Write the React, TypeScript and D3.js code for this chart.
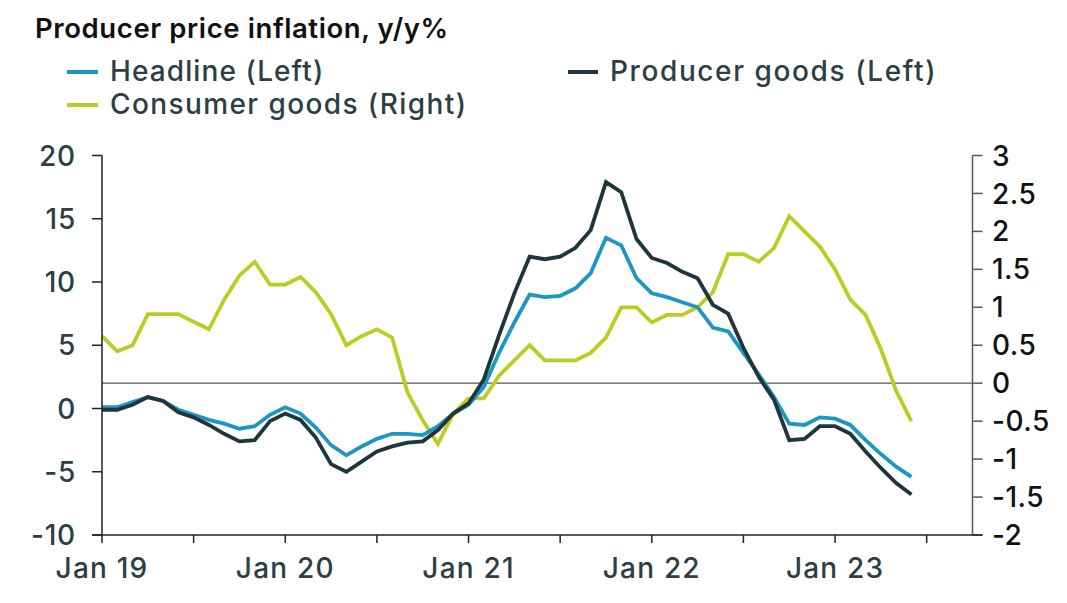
import React from "react";
import * as d3 from "d3";

const months: string[] = d3.range(54).map((i) => {
  const y = 2019 + Math.floor(i / 12);
  const m = (i % 12) + 1;
  return `${y}-${String(m).padStart(2, "0")}`;
});

const headline: number[] = [
  0.1, 0.1, 0.5, 0.9, 0.6, -0.1, -0.5, -0.9, -1.2, -1.6, -1.4, -0.5,
  0.1, -0.4, -1.5, -2.9, -3.7, -3.0, -2.4, -2.0, -2.0, -2.1, -1.4, -0.4,
  0.3, 1.7, 4.4, 6.8, 9.0, 8.8, 8.9, 9.5, 10.7, 13.5, 12.9, 10.3,
  9.1, 8.8, 8.4, 8.0, 6.4, 6.1, 4.4, 2.7, 0.9, -1.2, -1.3, -0.7,
  -0.8, -1.3, -2.5, -3.6, -4.6, -5.4,
];

const producer: number[] = [
  -0.1, -0.1, 0.3, 0.9, 0.6, -0.3, -0.7, -1.3, -2.0, -2.6, -2.5, -1.0,
  -0.4, -0.9, -2.3, -4.4, -5.0, -4.2, -3.4, -3.0, -2.7, -2.6, -1.7, -0.4,
  0.4, 2.3, 5.8, 9.1, 12.0, 11.8, 12.0, 12.7, 14.1, 17.9, 17.1, 13.4,
  11.9, 11.5, 10.8, 10.3, 8.2, 7.5, 4.8, 2.5, 0.7, -2.5, -2.4, -1.4,
  -1.4, -2.0, -3.4, -4.7, -5.9, -6.8,
];

const consumer: number[] = [
  0.62, 0.42, 0.5, 0.91, 0.91, 0.91, 0.81, 0.71, 1.1, 1.42, 1.6, 1.3,
  1.3, 1.4, 1.2, 0.91, 0.5, 0.62, 0.71, 0.6, -0.12, -0.49, -0.8, -0.4,
  -0.2, -0.2, 0.1, 0.3, 0.5, 0.3, 0.3, 0.3, 0.4, 0.6, 1.0, 1.0,
  0.8, 0.9, 0.9, 1.0, 1.2, 1.7, 1.7, 1.6, 1.78, 2.2, 2.0, 1.8,
  1.5, 1.1, 0.9, 0.45, -0.1, -0.5,
];

const leftTicks: number[] = [-10, -5, 0, 5, 10, 15, 20];
const rightTicks: number[] = [-2, -1.5, -1, -0.5, 0, 0.5, 1, 1.5, 2, 2.5, 3];
const xTickMonths: number[] = [0, 6, 12, 18, 24, 30, 36, 42, 48, 54];
const xLabels: { m: number; label: string }[] = [
  { m: 0, label: "Jan 19" },
  { m: 12, label: "Jan 20" },
  { m: 24, label: "Jan 21" },
  { m: 36, label: "Jan 22" },
  { m: 48, label: "Jan 23" },
];

const title = "Producer price inflation, y/y%";
const legendItems = [
  { label: "Headline (Left)", color: "#1b98c2" },
  { label: "Producer goods (Left)", color: "#1e363c" },
  { label: "Consumer goods (Right)", color: "#bccc22" },
];

const W = 1067;
const H = 603;
const TEXT = "#2b3f44";
const FONT = "Inter, 'Liberation Sans', Arial, sans-serif";

export default function App() {
  const x = d3.scaleLinear().domain([0, 57]).range([102, 972.5]);
  const yL = d3.scaleLinear().domain([-10, 20]).range([535, 155.5]);
  const yR = d3.scaleLinear().domain([-2, 3]).range([535, 155.5]);

  const lineL = d3
    .line<number>()
    .x((_, i) => x(i))
    .y((d) => yL(d));
  const lineR = d3
    .line<number>()
    .x((_, i) => x(i))
    .y((d) => yR(d));

  const x0 = x(0);
  const x1 = x(57);

  return (
    <div style={{ position: "fixed", left: 0, top: 0 }}>
      <svg width={W} height={H} style={{ display: "block", background: "#fff" }} fontFamily={FONT}>
        <text x={35} y={38} fontSize={27.5} fontWeight={600} fill="#111" letterSpacing={0.6}>
          {title}
        </text>
        {/* legend */}
        <g fontSize={28} fontWeight={500} fill={TEXT} letterSpacing={1.1}>
          <line x1={67} x2={98} y1={72} y2={72} stroke={legendItems[0].color} strokeWidth={4} />
          <text x={110} y={81}>{legendItems[0].label}</text>
          <line x1={568} x2={598} y1={72} y2={72} stroke={legendItems[1].color} strokeWidth={4} />
          <text x={610} y={81} letterSpacing={1.6}>{legendItems[1].label}</text>
          <line x1={67} x2={98} y1={105} y2={105} stroke={legendItems[2].color} strokeWidth={4} />
          <text x={110} y={114} letterSpacing={1.4}>{legendItems[2].label}</text>
        </g>

        {/* zero line (right axis 0) */}
        <line x1={x0} x2={x1} y1={yR(0)} y2={yR(0)} stroke="#555" strokeWidth={1.3} />

        {/* series */}
        <path d={lineR(consumer) || ""} fill="none" stroke={legendItems[2].color} strokeWidth={3.8} />
        <path d={lineL(headline) || ""} fill="none" stroke={legendItems[0].color} strokeWidth={3.8} />
        <path d={lineL(producer) || ""} fill="none" stroke={legendItems[1].color} strokeWidth={3.8} />

        {/* left axis */}
        <line x1={x0} x2={x0} y1={yL(20)} y2={yL(-10)} stroke="#222" strokeWidth={1.5} />
        {leftTicks.map((t) => (
          <g key={"l" + t}>
            <line x1={x0 - 10} x2={x0} y1={yL(t)} y2={yL(t)} stroke="#222" strokeWidth={1.5} />
            <text x={76} y={yL(t)} dy="0.36em" textAnchor="end" fontSize={28} fontWeight={500} fill={TEXT} letterSpacing={0.8}>
              {t}
            </text>
          </g>
        ))}

        {/* right axis */}
        <line x1={x1} x2={x1} y1={yR(3)} y2={yR(-2)} stroke="#4b5d5f" strokeWidth={1.5} />
        {rightTicks.map((t) => (
          <g key={"r" + t}>
            <line x1={x1} x2={x1 + 10} y1={yR(t)} y2={yR(t)} stroke="#4b5d5f" strokeWidth={1.5} />
            <text x={992} y={yR(t)} dy="0.36em" textAnchor="start" fontSize={28} fontWeight={500} fill="#111" letterSpacing={0.5}>
              {t}
            </text>
          </g>
        ))}

        {/* bottom axis */}
        <line x1={x0 - 10} x2={x1 + 10} y1={535} y2={535} stroke="#222" strokeWidth={1.5} />
        {xTickMonths.map((m) => (
          <line key={"x" + m} x1={x(m)} x2={x(m)} y1={535} y2={543} stroke="#222" strokeWidth={1.5} />
        ))}
        {xLabels.map((d) => (
          <text key={d.label} x={x(d.m)} y={578} textAnchor="middle" fontSize={28} fontWeight={500} fill={TEXT} letterSpacing={1.2}>
            {d.label}
          </text>
        ))}
      </svg>
    </div>
  );
}
